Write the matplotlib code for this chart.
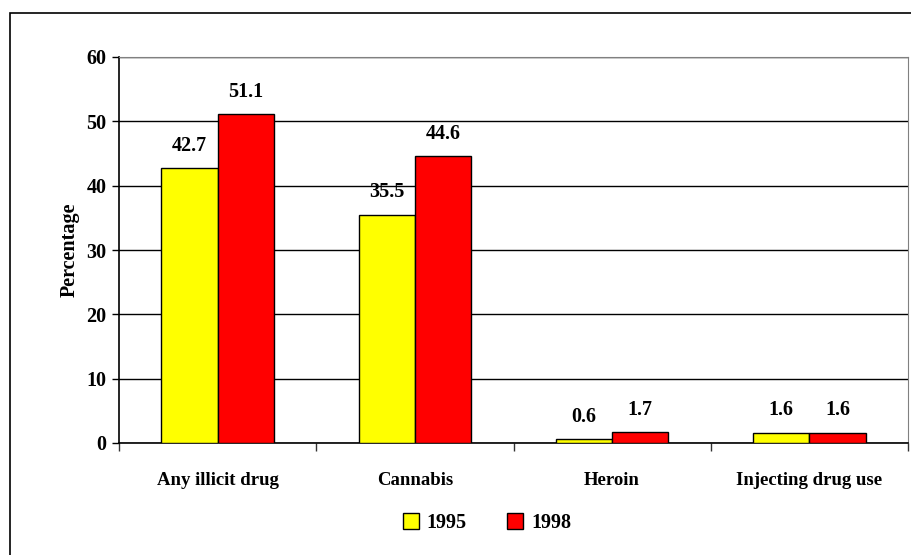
import matplotlib

matplotlib.use("Agg")
import matplotlib.pyplot as plt
from matplotlib.patches import Rectangle
import numpy as np

categories = ["Any illicit drug", "Cannabis", "Heroin", "Injecting drug use"]
years = ["1995", "1998"]
values_1995 = [42.7, 35.5, 0.6, 1.6]
values_1998 = [51.1, 44.6, 1.7, 1.6]
colors = ["#FFFF00", "#FF0000"]

plt.rcParams["font.family"] = ["Liberation Serif", "DejaVu Serif"]
plt.rcParams["font.weight"] = "bold"

fig = plt.figure(figsize=(9.11, 5.55), dpi=100)
ax = fig.add_axes([119 / 911, 1 - 443 / 555, (908 - 119) / 911, (443 - 57) / 555])

# outer chart border (left and top visible)
fig.patches.append(Rectangle((10 / 911, -0.1), 1.2, 1 - 13 / 555 + 0.1,
                             transform=fig.transFigure, fill=False,
                             edgecolor="black", linewidth=1.2))

x = np.arange(len(categories))
w = 0.285
series = [values_1995, values_1998]
for i, vals in enumerate(series):
    pos = x + (i - 0.5) * w
    bars = ax.bar(pos, vals, width=w, color=colors[i], edgecolor="black",
                  linewidth=1, label=years[i], zorder=3)
    for b, v in zip(bars, vals):
        ax.annotate(f"{v:.1f}", (b.get_x() + b.get_width() / 2, v),
                    xytext=(0, 9), textcoords="offset points",
                    ha="center", va="bottom", fontsize=14.5, fontweight="bold")

ax.set_xlim(-0.5, len(categories) - 0.5)
ax.set_ylim(0, 60)
ax.set_yticks(range(0, 61, 10))
ax.yaxis.grid(True, color="black", linewidth=1, zorder=0)
ax.set_axisbelow(True)

ax.set_xticks(x)
ax.set_xticklabels(categories, fontsize=13.5, fontweight="bold")
ax.tick_params(axis="x", which="major", length=0, pad=21)
ax.set_xticks(np.arange(-0.5, len(categories), 1), minor=True)
ax.tick_params(axis="x", which="minor", length=6, width=1, color="#333333")
ax.tick_params(axis="y", length=5, width=1, labelsize=14.5, pad=4)
for lab in ax.get_yticklabels():
    lab.set_fontweight("bold")

ax.set_ylabel("Percentage", fontsize=14.5, fontweight="bold", labelpad=5)

for side in ["top", "right"]:
    ax.spines[side].set_color("#808080")
for side in ["left", "bottom"]:
    ax.spines[side].set_color("black")
    ax.spines[side].set_linewidth(1.2)

fig.legend(loc="center", bbox_to_anchor=(487 / 911, 1 - 523 / 555), ncol=2,
           frameon=False, handlelength=0.8, handleheight=0.8,
           columnspacing=2.0, handletextpad=0.4, prop={"weight": "bold", "size": 14.5})

fig.savefig("out.png", dpi=100)
